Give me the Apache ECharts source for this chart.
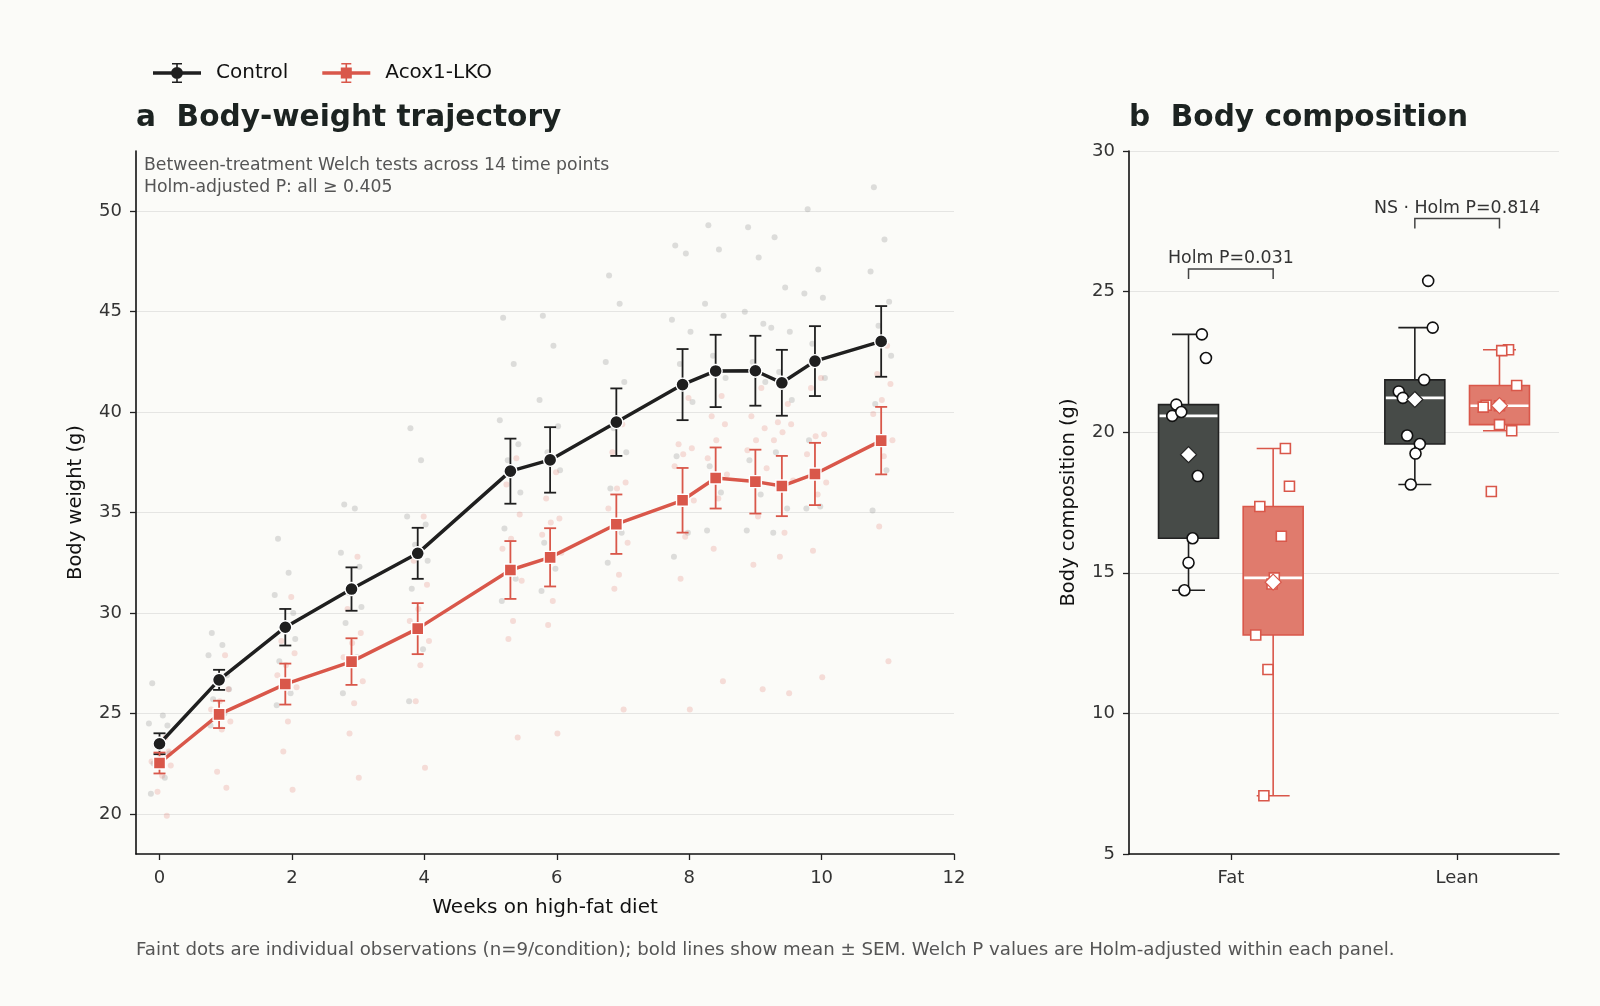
<!DOCTYPE html>
<html>
<head>
<meta charset="utf-8">
<title>Body weight trajectory and body composition</title>
<script src="https://cdn.jsdelivr.net/npm/echarts@6.0.0/dist/echarts.min.js"></script>
<style>
  html, body { margin: 0; padding: 0; background: #fbfbf8; }
  #chart { width: 1600px; height: 1006px; }
</style>
</head>
<body>
<div id="chart"></div>
<script>
/**
 * panel a: body weight over time (mean ± SEM + individual mice)
 */
var weeks = [0, 0.9, 1.9, 2.9, 3.9, 5.3, 5.9, 6.9, 7.9, 8.4, 9.0, 9.4, 9.9, 10.9];
var ctrlMean = [23.49, 26.67, 29.29, 31.19, 32.97, 37.06, 37.62, 39.50, 41.37, 42.05, 42.06, 41.46, 42.54, 43.52];
var ctrlSem = [0.52, 0.50, 0.91, 1.08, 1.27, 1.62, 1.63, 1.68, 1.77, 1.80, 1.74, 1.64, 1.74, 1.76];
var koMean = [22.53, 24.95, 26.46, 27.58, 29.22, 32.14, 32.77, 34.42, 35.61, 36.72, 36.54, 36.32, 36.92, 38.58];
var koSem = [0.52, 0.68, 1.02, 1.16, 1.27, 1.44, 1.45, 1.48, 1.61, 1.52, 1.59, 1.50, 1.55, 1.68];

// individual observations, one row per time point (n=9)
var ctrlObs = [
    [26.5, 24.9, 24.5, 24.4, 23.4, 23.0, 22.5, 21.8, 21.0],
    [29.0, 28.4, 27.9, 26.9, 26.6, 26.2, 25.7, 25.0, 24.4],
    [33.7, 32.0, 30.9, 30.0, 29.4, 28.7, 27.6, 26.0, 25.4],
    [35.4, 35.2, 33.0, 32.3, 31.0, 30.3, 29.5, 27.8, 26.0],
    [39.2, 37.6, 34.8, 34.4, 33.4, 32.6, 31.2, 28.2, 25.6],
    [44.7, 42.4, 39.6, 38.4, 37.6, 36.0, 34.2, 31.7, 30.6],
    [44.8, 43.3, 40.6, 39.3, 38.0, 37.1, 33.5, 32.2, 31.1],
    [46.8, 45.4, 42.5, 41.5, 39.2, 38.0, 36.2, 34.0, 32.5],
    [48.3, 47.9, 44.6, 44.0, 42.4, 40.5, 37.8, 34.0, 32.8],
    [49.3, 48.1, 45.4, 44.8, 42.8, 41.7, 37.3, 36.0, 34.1],
    [49.2, 47.7, 45.0, 44.4, 42.5, 41.5, 37.6, 35.9, 34.1],
    [48.7, 46.2, 44.2, 44.0, 42.0, 40.6, 38.0, 35.2, 34.0],
    [50.1, 47.1, 45.9, 45.7, 43.4, 41.7, 38.6, 35.3, 35.2],
    [51.2, 48.6, 47.0, 45.5, 44.3, 42.8, 40.4, 37.1, 35.1]
];
var koObs = [
    [23.8, 23.4, 23.1, 22.9, 22.6, 22.4, 21.9, 21.1, 19.9],
    [27.9, 26.6, 26.2, 25.6, 25.2, 24.6, 24.2, 22.1, 21.3],
    [30.8, 28.6, 28.0, 27.4, 26.9, 26.3, 24.6, 23.1, 21.2],
    [32.8, 30.2, 29.0, 28.5, 27.8, 26.6, 25.5, 24.0, 21.8],
    [34.8, 32.6, 31.4, 30.2, 29.6, 28.6, 27.4, 25.6, 22.3],
    [37.7, 36.4, 34.9, 33.7, 33.2, 31.6, 29.6, 28.7, 23.8],
    [37.0, 35.7, 34.7, 34.5, 33.9, 33.0, 30.6, 29.4, 24.0],
    [39.4, 38.0, 36.5, 36.2, 35.2, 33.5, 31.9, 31.2, 25.2],
    [40.7, 38.4, 38.2, 37.9, 37.3, 35.6, 33.8, 31.7, 25.2],
    [40.8, 39.8, 39.4, 38.6, 37.7, 36.9, 35.7, 33.2, 26.6],
    [41.2, 39.8, 39.2, 38.6, 38.1, 37.2, 34.8, 32.4, 26.2],
    [40.4, 39.5, 39.4, 39.0, 38.6, 36.6, 34.0, 32.8, 26.0],
    [41.7, 41.2, 38.9, 38.8, 37.9, 36.5, 35.9, 33.1, 26.8],
    [43.3, 41.9, 41.4, 40.6, 39.9, 38.6, 37.8, 34.3, 27.6]
];
var weekTicks = [0, 2, 4, 6, 8, 10, 12];
var weightTicks = [20, 25, 30, 35, 40, 45, 50];

/**
 * panel b: body composition (g)
 */
var compCats = ['Fat', 'Lean'];
var fatCtrl = [23.48, 22.64, 20.98, 20.58, 20.72, 18.44, 16.23, 15.36, 14.38];
var fatKo = [19.42, 18.08, 17.36, 16.30, 14.82, 14.60, 12.79, 11.56, 7.07];
var leanCtrl = [25.38, 23.72, 21.86, 21.45, 21.22, 19.88, 19.58, 19.24, 18.14];
var leanKo = [22.93, 22.90, 21.66, 20.96, 20.89, 20.94, 20.27, 20.05, 17.89];
var bracketLevel = [25.8, 27.6];
var bracketText = ['Holm P=0.031', 'NS \u00b7 Holm P=0.814'];

// ---- layout / style constants (not data) ----
var FONT = 'DejaVu Sans';
var BG = '#fbfbf8';
var C_CTRL = '#1f1f1f';
var C_KO = '#d9574a';
var obsJitCtrl = [-0.11, 0.05, -0.16, 0.12, -0.04, 0.15, -0.09, 0.08, -0.13];
var obsJitKo = [0.09, -0.06, 0.14, 0.01, -0.12, 0.17, 0.04, -0.03, 0.11];
var boxShift = 0.187;
var boxWidth = 0.265;
var fatCtrlJit = [0.059, 0.077, -0.054, -0.072, -0.032, 0.041, 0.018, 0, -0.018];
var fatKoJit = [0.054, 0.072, -0.059, 0.036, 0.005, -0.005, -0.077, -0.023, -0.041];
var leanCtrlJit = [0.059, 0.079, 0.041, -0.071, -0.053, -0.034, 0.022, 0.003, -0.018];
var leanKoJit = [0.04, 0.01, 0.076, -0.059, -0.072, 0, 0, 0.054, -0.036];

/**
 * box statistics, matplotlib style (linear quantiles, 1.5 IQR whiskers)
 */
function quantile(s, p) {
    var h = (s.length - 1) * p;
    var i = Math.floor(h);
    var next = i + 1 < s.length ? s[i + 1] : s[i];
    return s[i] + (next - s[i]) * (h - i);
}
function boxStats(vals) {
    var s = vals.slice().sort(function (a, b) { return a - b; });
    var q1 = quantile(s, 0.25), med = quantile(s, 0.5), q3 = quantile(s, 0.75);
    var iqr = q3 - q1;
    var lo = q3, hi = q1, sum = 0;
    for (var i = 0; i < s.length; i++) {
        sum += s[i];
        if (s[i] >= q1 - 1.5 * iqr && s[i] < lo) lo = s[i];
        if (s[i] <= q3 + 1.5 * iqr && s[i] > hi) hi = s[i];
    }
    return { q1: q1, med: med, q3: q3, lo: lo, hi: hi, mean: sum / s.length };
}

var boxGroups = [
    { cat: 0, shift: -boxShift, vals: fatCtrl, jit: fatCtrlJit, ko: false },
    { cat: 0, shift: boxShift, vals: fatKo, jit: fatKoJit, ko: true },
    { cat: 1, shift: -boxShift, vals: leanCtrl, jit: leanCtrlJit, ko: false },
    { cat: 1, shift: boxShift, vals: leanKo, jit: leanKoJit, ko: true }
];
for (var b = 0; b < boxGroups.length; b++) {
    boxGroups[b].stats = boxStats(boxGroups[b].vals);
}

/**
 * series data builders
 */
function meanLine(means) {
    var out = [];
    for (var i = 0; i < weeks.length; i++) out.push([weeks[i], means[i]]);
    return out;
}
function semBars(means, sems) {
    var out = [];
    for (var i = 0; i < weeks.length; i++) out.push([weeks[i], means[i] - sems[i], means[i] + sems[i]]);
    return out;
}
function obsPoints(obs, jit) {
    var out = [];
    for (var i = 0; i < obs.length; i++) {
        for (var k = 0; k < obs[i].length; k++) out.push([weeks[i] + jit[k], obs[i][k]]);
    }
    return out;
}
function boxPoints(ko) {
    var out = [];
    boxGroups.forEach(function (g) {
        if (g.ko !== ko) return;
        for (var k = 0; k < g.vals.length; k++) out.push([g.cat + g.shift + g.jit[k], g.vals[k]]);
    });
    return out;
}
function boxMeans(ko) {
    var out = [];
    boxGroups.forEach(function (g) {
        if (g.ko === ko) out.push([g.cat + g.shift, g.stats.mean]);
    });
    return out;
}

function errorBarRenderer(color) {
    return function (params, api) {
        var top = api.coord([api.value(0), api.value(2)]);
        var bot = api.coord([api.value(0), api.value(1)]);
        var half = 6;
        var st = { stroke: color, lineWidth: 1.8 };
        return {
            type: 'group',
            children: [
                { type: 'line', shape: { x1: top[0], y1: top[1], x2: bot[0], y2: bot[1] }, style: st },
                { type: 'line', shape: { x1: top[0] - half, y1: top[1], x2: top[0] + half, y2: top[1] }, style: st },
                { type: 'line', shape: { x1: bot[0] - half, y1: bot[1], x2: bot[0] + half, y2: bot[1] }, style: st }
            ]
        };
    };
}

function renderBox(params, api) {
    var g = boxGroups[params.dataIndex];
    var s = g.stats;
    var xc = g.cat + g.shift;
    var halfW = api.size([boxWidth, 0])[0] / 2;
    var capHalf = halfW * 0.55;
    var pq1 = api.coord([xc, s.q1]), pq3 = api.coord([xc, s.q3]);
    var pmed = api.coord([xc, s.med]), plo = api.coord([xc, s.lo]), phi = api.coord([xc, s.hi]);
    var cx = pq1[0];
    var edge = g.ko ? C_KO : '#222222';
    var fill = g.ko ? '#e07b6d' : '#474b48';
    var ws = { stroke: g.ko ? C_KO : C_CTRL, lineWidth: 1.6 };
    return {
        type: 'group',
        children: [
            { type: 'line', shape: { x1: cx, y1: pq3[1], x2: cx, y2: phi[1] }, style: ws },
            { type: 'line', shape: { x1: cx, y1: pq1[1], x2: cx, y2: plo[1] }, style: ws },
            { type: 'line', shape: { x1: cx - capHalf, y1: phi[1], x2: cx + capHalf, y2: phi[1] }, style: ws },
            { type: 'line', shape: { x1: cx - capHalf, y1: plo[1], x2: cx + capHalf, y2: plo[1] }, style: ws },
            {
                type: 'rect',
                shape: { x: cx - halfW, y: pq3[1], width: halfW * 2, height: pq1[1] - pq3[1] },
                style: { fill: fill, stroke: edge, lineWidth: 1.6 }
            },
            { type: 'line', shape: { x1: cx - halfW + 1, y1: pmed[1], x2: cx + halfW - 1, y2: pmed[1] }, style: { stroke: '#ffffff', lineWidth: 2.6 } }
        ]
    };
}

function renderBracket(params, api) {
    var i = params.dataIndex;
    var left = api.coord([i - boxShift, bracketLevel[i]]);
    var right = api.coord([i + boxShift, bracketLevel[i]]);
    var leg = 10;
    var st = { stroke: '#444444', lineWidth: 1.5, fill: null };
    return {
        type: 'group',
        children: [
            {
                type: 'polyline',
                shape: { points: [[left[0], left[1] + leg], [left[0], left[1]], [right[0], right[1]], [right[0], right[1] + leg]] },
                style: st
            },
            {
                type: 'text',
                x: (left[0] + right[0]) / 2,
                y: left[1] - 2,
                style: { text: bracketText[i], fill: '#333333', fontSize: 17.4, fontFamily: FONT, align: 'center', verticalAlign: 'bottom' }
            }
        ]
    };
}

// legend icon, 48 x 20 box: line + error bar with caps + marker
var ICON_CTRL = 'path://M0 8.3H48V11.7H0Z M23.2 1H24.8V19H23.2Z M19 0H29V1.6H19Z M19 18.4H29V20H19Z M18 10A6 6 0 1 1 30 10A6 6 0 1 1 18 10Z';
var ICON_KO = 'path://M0 8.3H48V11.7H0Z M23.2 1H24.8V19H23.2Z M19 0H29V1.6H19Z M19 18.4H29V20H19Z M18.5 4.5H29.5V15.5H18.5Z';

var axisLineStyle = { color: '#111111', width: 1.6 };
var tickStyle = { color: '#222222', width: 1.3 };
var tickLabel = { color: '#333333', fontSize: 18, fontFamily: FONT, margin: 14 };
var nameStyle = { color: '#111111', fontSize: 19.5, fontFamily: FONT };
var gridLine = { show: true, lineStyle: { color: '#e5e5e3', width: 1 } };

var chart = echarts.init(document.getElementById('chart'), null, { renderer: 'canvas' });

var option = {
    backgroundColor: BG,
    animation: false,
    textStyle: { fontFamily: FONT },
    title: [
        { text: 'a  Body-weight trajectory', left: 131, top: 98, textStyle: { fontSize: 29.6, fontWeight: 'bold', color: '#1c2321', fontFamily: FONT } },
        { text: 'b  Body composition', left: 1124, top: 98, textStyle: { fontSize: 29.6, fontWeight: 'bold', color: '#1c2321', fontFamily: FONT } }
    ],
    legend: {
        data: [
            { name: 'Control', icon: ICON_CTRL },
            { name: 'Acox1-LKO', icon: ICON_KO }
        ],
        left: 148,
        top: 58,
        itemWidth: 48,
        itemHeight: 20,
        itemGap: 34,
        itemStyle: { borderWidth: 0 },
        textStyle: { fontSize: 20, color: '#111111', fontFamily: FONT, padding: [0, 0, 0, 10] }
    },
    grid: [
        { left: 136, top: 151, width: 818, height: 703 },
        { left: 1129, top: 151, width: 430, height: 703 }
    ],
    xAxis: [
        {
            type: 'value', gridIndex: 0, min: -0.355, max: 12,
            name: 'Weeks on high-fat diet', nameLocation: 'middle', nameGap: 44,
            nameTextStyle: Object.assign({}, nameStyle, { fontSize: 20 }),
            axisLine: { onZero: false, lineStyle: axisLineStyle },
            axisTick: { show: true, length: 6, lineStyle: tickStyle, customValues: weekTicks },
            axisLabel: Object.assign({ customValues: weekTicks }, tickLabel, { margin: 15 }),
            splitLine: { show: false }
        },
        {
            type: 'value', gridIndex: 1, min: -0.45, max: 1.45,
            axisLine: { onZero: false, lineStyle: axisLineStyle },
            axisTick: { show: true, length: 6, lineStyle: tickStyle, customValues: [0, 1] },
            axisLabel: Object.assign({
                customValues: [0, 1],
                formatter: function (v) { return compCats[Math.round(v)]; }
            }, tickLabel, { margin: 15 }),
            splitLine: { show: false }
        }
    ],
    yAxis: [
        {
            type: 'value', gridIndex: 0, min: 18, max: 53,
            name: 'Body weight (g)', nameLocation: 'middle', nameGap: 50, nameTextStyle: nameStyle,
            axisLine: { show: true, onZero: false, lineStyle: axisLineStyle },
            axisTick: { show: true, length: 6, lineStyle: tickStyle, customValues: weightTicks },
            axisLabel: Object.assign({ customValues: weightTicks }, tickLabel),
            splitLine: gridLine
        },
        {
            type: 'value', gridIndex: 1, min: 5, max: 30, interval: 5,
            name: 'Body composition (g)', nameLocation: 'middle', nameGap: 50, nameTextStyle: nameStyle,
            axisLine: { show: true, onZero: false, lineStyle: axisLineStyle },
            axisTick: { show: true, length: 6, lineStyle: tickStyle },
            axisLabel: tickLabel,
            splitLine: gridLine
        }
    ],
    series: [
        {
            name: 'Control obs', type: 'scatter', xAxisIndex: 0, yAxisIndex: 0, z: 1,
            symbolSize: 6, data: obsPoints(ctrlObs, obsJitCtrl),
            itemStyle: { color: 'rgba(150,150,150,0.3)', opacity: 1 }, silent: true
        },
        {
            name: 'Acox1-LKO obs', type: 'scatter', xAxisIndex: 0, yAxisIndex: 0, z: 1,
            symbolSize: 6, data: obsPoints(koObs, obsJitKo),
            itemStyle: { color: 'rgba(224,110,98,0.22)', opacity: 1 }, silent: true
        },
        {
            name: 'Control SEM', type: 'custom', xAxisIndex: 0, yAxisIndex: 0, z: 2,
            renderItem: errorBarRenderer(C_CTRL), encode: { x: 0, y: [1, 2] },
            data: semBars(ctrlMean, ctrlSem)
        },
        {
            name: 'Acox1-LKO SEM', type: 'custom', xAxisIndex: 0, yAxisIndex: 0, z: 2,
            renderItem: errorBarRenderer(C_KO), encode: { x: 0, y: [1, 2] },
            data: semBars(koMean, koSem)
        },
        {
            name: 'Control', type: 'line', xAxisIndex: 0, yAxisIndex: 0, z: 3,
            data: meanLine(ctrlMean), symbol: 'circle', symbolSize: 13,
            lineStyle: { color: C_CTRL, width: 3.5 },
            itemStyle: { color: C_CTRL, borderColor: '#ffffff', borderWidth: 1.4 }
        },
        {
            name: 'Acox1-LKO', type: 'line', xAxisIndex: 0, yAxisIndex: 0, z: 3,
            data: meanLine(koMean), symbol: 'rect', symbolSize: 12,
            lineStyle: { color: C_KO, width: 3.5 },
            itemStyle: { color: C_KO, borderColor: '#ffffff', borderWidth: 1.4 }
        },
        {
            name: 'boxes', type: 'custom', xAxisIndex: 1, yAxisIndex: 1, z: 2,
            renderItem: renderBox, data: boxGroups.map(function (g) { return [g.cat + g.shift, g.stats.med]; })
        },
        {
            name: 'brackets', type: 'custom', xAxisIndex: 1, yAxisIndex: 1, z: 2,
            renderItem: renderBracket, data: bracketLevel.map(function (v, i) { return [i, v]; })
        },
        {
            name: 'Control points', type: 'scatter', xAxisIndex: 1, yAxisIndex: 1, z: 4,
            symbol: 'circle', symbolSize: 11, data: boxPoints(false),
            itemStyle: { color: '#ffffff', borderColor: '#111111', borderWidth: 1.6, opacity: 1 }
        },
        {
            name: 'Acox1-LKO points', type: 'scatter', xAxisIndex: 1, yAxisIndex: 1, z: 4,
            symbol: 'rect', symbolSize: 10, data: boxPoints(true),
            itemStyle: { color: '#ffffff', borderColor: C_KO, borderWidth: 1.6, opacity: 1 }
        },
        {
            name: 'Control mean', type: 'scatter', xAxisIndex: 1, yAxisIndex: 1, z: 5,
            symbol: 'diamond', symbolSize: [16, 16], data: boxMeans(false),
            itemStyle: { color: '#ffffff', borderColor: '#222222', borderWidth: 1.2, opacity: 1 }
        },
        {
            name: 'Acox1-LKO mean', type: 'scatter', xAxisIndex: 1, yAxisIndex: 1, z: 5,
            symbol: 'diamond', symbolSize: [16, 16], data: boxMeans(true),
            itemStyle: { color: '#ffffff', borderColor: C_KO, borderWidth: 1.2, opacity: 1 }
        }
    ],
    graphic: [
        {
            type: 'text', left: 144, top: 157.5,
            style: { text: 'Between-treatment Welch tests across 14 time points', fill: '#555555', fontSize: 17.3, fontFamily: FONT }
        },
        {
            type: 'text', left: 144, top: 179,
            style: { text: 'Holm-adjusted P: all \u2265 0.405', fill: '#555555', fontSize: 17.3, fontFamily: FONT }
        },
        {
            type: 'text', left: 136, top: 941,
            style: {
                text: 'Faint dots are individual observations (n=9/condition); bold lines show mean \u00b1 SEM. Welch P values are Holm-adjusted within each panel.',
                fill: '#555555', fontSize: 18.2, fontFamily: FONT
            }
        }
    ]
};

chart.setOption(option);
</script>
</body>
</html>
